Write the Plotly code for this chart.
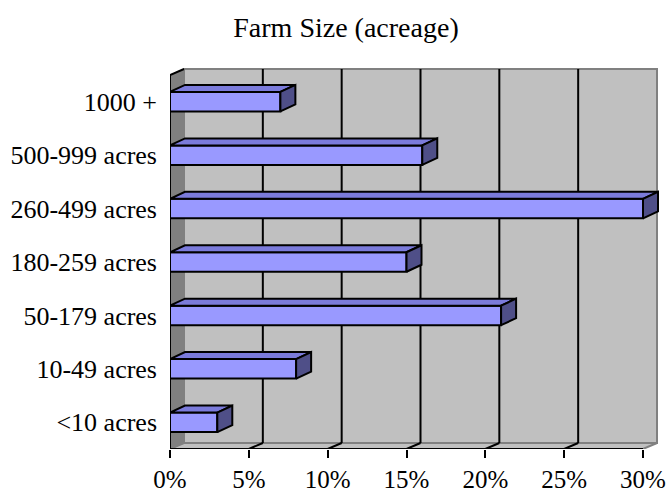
import plotly.graph_objects as go

# ---- data (bottom to top) ----
categories = ["<10 acres", "10-49 acres", "50-179 acres", "180-259 acres",
              "260-499 acres", "500-999 acres", "1000 +"]
values = [3, 8, 21, 15, 30, 16, 7]
x_tick_vals = [0, 5, 10, 15, 20, 25, 30]
x_tick_text = ["0%", "5%", "10%", "15%", "20%", "25%", "30%"]
title_text = "Farm Size (acreage)"

# ---- geometry ----
W, H = 666, 492
L_PX, R_PX = 170, 661          # plot area left/right pixel
T_PX, B_PX = 66, 449           # plot area top/bottom pixel
X_MAX_FRONT_PX = 643           # pixel of 30% on front plane
Y_TOP_FRONT_PX = 75            # pixel of top category boundary (front)
n = len(categories)

px_per_x = (X_MAX_FRONT_PX - L_PX) / 30.0
px_per_y = (B_PX - Y_TOP_FRONT_PX) / n
x_range = [0, (R_PX - L_PX) / px_per_x]
y_range = [-0.5, n - 0.5 + (Y_TOP_FRONT_PX - T_PX) / px_per_y]

# wall depth and bar depth in data units
wdx, wdy = 14 / px_per_x, 6 / px_per_y
bdx, bdy = 15 / px_per_x, 7 / px_per_y
bar_w = 0.365
xmax = 30
ylo, yhi = -0.5, n - 0.5

fig = go.Figure()
shapes = []

def poly(xs, ys, fill, line_color, lw, layer="below"):
    path = "M " + " L ".join(f"{x},{y}" for x, y in zip(xs, ys)) + " Z"
    shapes.append(dict(type="path", path=path, xref="x", yref="y",
                       fillcolor=fill, line=dict(color=line_color, width=lw),
                       layer=layer))

def seg(x0, y0, x1, y1, color, lw, layer="below"):
    shapes.append(dict(type="line", x0=x0, y0=y0, x1=x1, y1=y1, xref="x", yref="y",
                       line=dict(color=color, width=lw), layer=layer))

# back wall
poly([wdx, xmax + wdx, xmax + wdx, wdx], [ylo + wdy, ylo + wdy, yhi + wdy, yhi + wdy],
     "#C0C0C0", "#808080", 2)
# floor
poly([0, wdx, xmax + wdx, xmax], [ylo, ylo + wdy, ylo + wdy, ylo], "#C0C0C0", "#808080", 2)
# left wall
poly([0, wdx, wdx, 0], [ylo, ylo + wdy, yhi + wdy, yhi], "#808080", "#808080", 1)

# gridlines on back wall and floor
for v in x_tick_vals[1:-1]:
    seg(v + wdx, ylo + wdy, v + wdx, yhi + wdy, "black", 2)
    seg(v, ylo, v + wdx, ylo + wdy, "black", 2)
# top-left wall edge
seg(0, yhi, wdx, yhi + wdy, "black", 2)

# axis lines
shapes.append(dict(type="line", xref="x", yref="y", x0=0, x1=xmax, y0=ylo, y1=ylo,
                   line=dict(color="black", width=2), layer="above"))
shapes.append(dict(type="line", xref="x", yref="y", x0=0, x1=0, y0=ylo, y1=yhi,
                   line=dict(color="black", width=2), layer="above"))
# y boundary ticks
for k in range(n + 1):
    shapes.append(dict(type="line", xref="x", yref="y", xsizemode="pixel", xanchor=0,
                       x0=-8, x1=0, y0=ylo + k, y1=ylo + k,
                       line=dict(color="black", width=2), layer="above"))

# bars: front faces
ys = list(range(n))
fig.add_trace(go.Bar(x=values, y=ys, orientation="h", width=bar_w, base=0,
                     marker=dict(color="#9999FF", line=dict(color="black", width=2)),
                     hoverinfo="skip", showlegend=False))

# bars: top and side faces
for v, c in zip(values, ys):
    h = bar_w / 2
    fig.add_trace(go.Scatter(
        x=[0, v, v + bdx, bdx, 0], y=[c + h, c + h, c + h + bdy, c + h + bdy, c + h],
        fill="toself", fillcolor="#7B7BDB", mode="lines",
        line=dict(color="black", width=2), hoverinfo="skip", showlegend=False))
    fig.add_trace(go.Scatter(
        x=[v, v + bdx, v + bdx, v, v], y=[c - h, c - h + bdy, c + h + bdy, c + h, c - h],
        fill="toself", fillcolor="#4F4F88", mode="lines",
        line=dict(color="black", width=2), hoverinfo="skip", showlegend=False))

fig.update_layout(
    width=W, height=H,
    margin=dict(l=L_PX, r=W - R_PX, t=T_PX, b=H - B_PX, pad=0, autoexpand=False),
    paper_bgcolor="white", plot_bgcolor="white",
    font=dict(family="Liberation Serif, Times New Roman, serif", color="black"),
    title=dict(text=title_text, x=346 / W, xref="container", xanchor="center",
               y=1 - 27 / H, yref="container", yanchor="middle",
               font=dict(size=28, family="Liberation Serif", color="black"),
               automargin=False),
    xaxis=dict(range=x_range, tickvals=x_tick_vals, ticktext=x_tick_text,
               ticks="outside", ticklen=8, tickwidth=2, tickcolor="black",
               showgrid=False, zeroline=False, showline=False, automargin=False,
               ticklabeloverflow="allow",
               tickfont=dict(size=25, family="Liberation Serif", color="black"),
               fixedrange=True),
    yaxis=dict(range=y_range, tickvals=ys, ticktext=categories, ticks="",
               showgrid=False, zeroline=False, showline=False, automargin=False,
               ticklabelstandoff=12,
               tickfont=dict(size=26, family="Liberation Serif", color="black"),
               fixedrange=True),
    shapes=shapes,
    showlegend=False,
)

fig.write_html("out.html", config={"displayModeBar": False},
               post_script="document.body.style.margin='0';")
